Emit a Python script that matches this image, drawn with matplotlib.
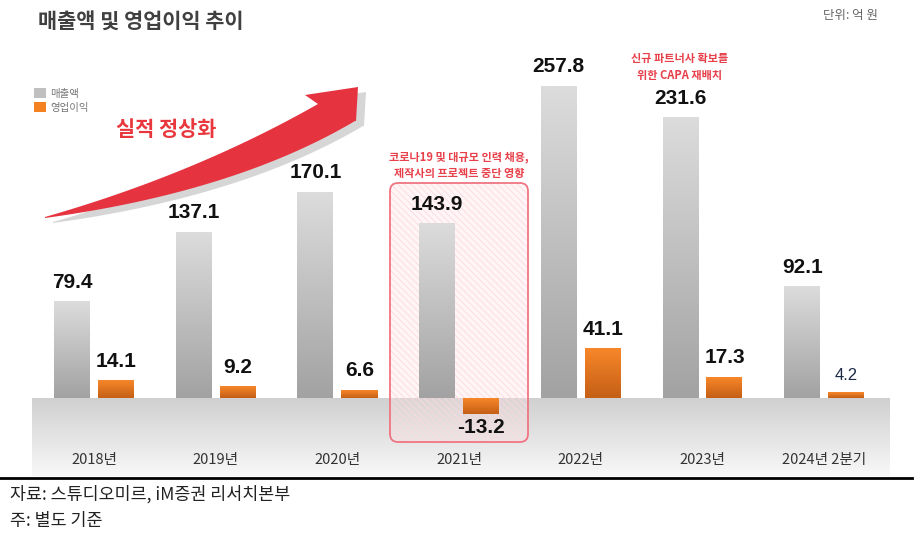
import numpy as np
import matplotlib
matplotlib.use("Agg")
import matplotlib.pyplot as plt
from matplotlib.patches import FancyBboxPatch, Polygon
from matplotlib.colors import LinearSegmentedColormap
import matplotlib.transforms as mtransforms

plt.rcParams['font.family'] = ['Noto Sans CJK KR', 'DejaVu Sans']
plt.rcParams['hatch.linewidth'] = 0.6

categories = ['2018년', '2019년', '2020년', '2021년', '2022년', '2023년', '2024년 2분기']
revenue = [79.4, 137.1, 170.1, 143.9, 257.8, 231.6, 92.1]
op_income = [14.1, 9.2, 6.6, -13.2, 41.1, 17.3, 4.2]
series_names = ['매출액', '영업이익']

W, H = 916, 534
fig = plt.figure(figsize=(W / 100, H / 100), dpi=100)
fig.patch.set_facecolor('white')

px_per_cat = 121.7
cat0_px = 94
zero_px = 398
px_per_unit = 1.21
ax_left_px, ax_right_px = 32, 890
ax_bottom_px, ax_top_px = 476, 0

ax = fig.add_axes([ax_left_px / W, 1 - ax_bottom_px / H,
                   (ax_right_px - ax_left_px) / W, (ax_bottom_px - ax_top_px) / H])
xmin = (ax_left_px - cat0_px) / px_per_cat
xmax = (ax_right_px - cat0_px) / px_per_cat
ymin = (zero_px - ax_bottom_px) / px_per_unit
ymax = (zero_px - ax_top_px) / px_per_unit
ax.set_xlim(xmin, xmax)
ax.set_ylim(ymin, ymax)
ax.axis('off')

# background band below baseline
band_cmap = LinearSegmentedColormap.from_list('band', ['#f8f8f8', '#d0d0d0'])
ax.imshow(np.linspace(0, 1, 256).reshape(-1, 1), extent=(xmin, xmax, ymin, 0),
          cmap=band_cmap, aspect='auto', zorder=0, origin='lower')

x = np.arange(len(categories))
bw = 36 / px_per_cat
off = 22 / px_per_cat
bars_rev = ax.bar(x - off, revenue, bw, color='#c0c0c0', label=series_names[0], zorder=2)
bars_op = ax.bar(x + off, op_income, bw, color='#f58220', label=series_names[1], zorder=2)

gray_cmap = LinearSegmentedColormap.from_list('g', ['#a2a2a2', '#dcdcdc'])
orange_cmap = LinearSegmentedColormap.from_list('o', ['#c45f16', '#f8872a'])
grad = np.linspace(0, 1, 256).reshape(-1, 1)
for bars, cm in ((bars_rev, gray_cmap), (bars_op, orange_cmap)):
    for b in bars:
        x0, w = b.get_x(), b.get_width()
        y0, h = b.get_y(), b.get_height()
        lo, hi = min(y0, y0 + h), max(y0, y0 + h)
        ax.imshow(grad, extent=(x0, x0 + w, lo, hi), cmap=cm, aspect='auto',
                  origin='lower', zorder=3)

label_font = ['Liberation Sans', 'Noto Sans CJK KR']
for b, v in zip(bars_rev, revenue):
    ax.annotate(f'{v:.1f}', (b.get_x() + b.get_width() / 2, v), xytext=(0, 7),
                textcoords='offset points', ha='center', va='bottom',
                fontsize=15, fontweight='bold', family=label_font, color='#111111', zorder=5)
for b, v in zip(bars_op, op_income):
    small = abs(v) < 5
    if v >= 0:
        ax.annotate(f'{v:.1f}', (b.get_x() + b.get_width() / 2, v), xytext=(0, 7),
                    textcoords='offset points', ha='center', va='bottom',
                    fontsize=12 if small else 15, fontweight='normal' if small else 'bold',
                    family=label_font, color='#1c2a46' if small else '#111111', zorder=5)
    else:
        ax.annotate(f'{v:.1f}', (b.get_x() + b.get_width() / 2, v), xytext=(0, -3),
                    textcoords='offset points', ha='center', va='top',
                    fontsize=15, fontweight='bold', family=label_font, color='#111111', zorder=5)

# category labels
for xi, c in zip(x, categories):
    ax.text(xi, (zero_px - 460) / px_per_unit, c, ha='center', va='center',
            fontsize=10.5, color='#333333', zorder=5)

# highlight box around 2021
bx0 = (390 - cat0_px) / px_per_cat
bx1 = (528 - cat0_px) / px_per_cat
by1 = (zero_px - 183) / px_per_unit
by0 = (zero_px - 442) / px_per_unit
asp = px_per_cat / px_per_unit
rs = 8 / px_per_cat
hatch_box = FancyBboxPatch((bx0, by0), bx1 - bx0, by1 - by0,
                           boxstyle=f'round,pad=0,rounding_size={rs}', mutation_aspect=asp,
                           facecolor=(1, 0.88, 0.9, 0.3), edgecolor='#fadadd', hatch='\\\\\\\\\\',
                           linewidth=0, zorder=1)
ax.add_patch(hatch_box)
border_box = FancyBboxPatch((bx0, by0), bx1 - bx0, by1 - by0,
                            boxstyle=f'round,pad=0,rounding_size={rs}', mutation_aspect=asp,
                            facecolor='none', edgecolor='#ef7582', linewidth=1.3, zorder=6)
ax.add_patch(border_box)

ax.text(3.0, (zero_px - 165) / px_per_unit, '코로나19 및 대규모 인력 채용,\n제작사의 프로젝트 중단 영향',
        ha='center', va='center', fontsize=8, fontweight='bold', color='#e8404a',
        linespacing=1.35, zorder=6)
ax.text((680 - cat0_px) / px_per_cat, (zero_px - 67) / px_per_unit, '신규 파트너사 확보를\n위한 CAPA 재배치',
        ha='center', va='center', fontsize=8, fontweight='bold', color='#e8404a',
        linespacing=1.35, zorder=6)

# legend
ax.legend(handles=[bars_rev, bars_op], labels=series_names, loc='upper left',
          bbox_to_anchor=(29 / W, 1 - 83 / H), bbox_transform=fig.transFigure,
          frameon=False, fontsize=7.5, labelcolor='#777777', handlelength=1.1,
          handleheight=1.1, handletextpad=0.4, labelspacing=0.35, borderpad=0)

# title and unit
fig.text(38 / W, 1 - 21 / H, '매출액 및 영업이익 추이', ha='left', va='center',
         fontsize=15, fontweight='bold', color='#404040')
fig.text(878 / W, 1 - 16 / H, '단위: 억 원', ha='right', va='center',
         fontsize=9, color='#666666')
fig.text(116 / W, 1 - 130 / H, '실적 정상화', ha='left', va='center',
         fontsize=15, fontweight='bold', color='#e8383d')

# curved arrow (decorative)
pix = mtransforms.Affine2D().scale(1 / W, -1 / H).translate(0, 1) + fig.transFigure
t = np.linspace(0, 1, 80)[:, None]

def qbez(a, c, b):
    a, c, b = map(np.asarray, (a, c, b))
    return (1 - t) ** 2 * a + 2 * (1 - t) * t * c + t ** 2 * b

lower = qbez((45., 218.), (235., 192.), (355., 121.))
upper = qbez((45., 217.), (195., 174.), (318., 104.))
body = np.vstack([upper, [[305., 95.], [358., 87.], [356., 121.]], lower[::-1]])
shadow = body + np.array([8, 5])
fig.add_artist(Polygon(shadow, closed=True, transform=pix, facecolor='#d6d6d6',
                       edgecolor='none', zorder=1))
fig.add_artist(Polygon(body, closed=True, transform=pix, facecolor='#e5343f',
                       edgecolor='none', zorder=2))

# bottom rule and footnotes
fig.add_artist(plt.Line2D([0, 912 / W], [1 - 478 / H, 1 - 478 / H], transform=fig.transFigure,
                          color='black', linewidth=2))
fig.text(10 / W, 1 - 494 / H, '자료: 스튜디오미르, iM증권 리서치본부', ha='left', va='center',
         fontsize=12.5, color='#222222')
fig.text(10 / W, 1 - 521 / H, '주: 별도 기준', ha='left', va='center',
         fontsize=12.5, color='#222222')

fig.savefig('out.png', dpi=100)
